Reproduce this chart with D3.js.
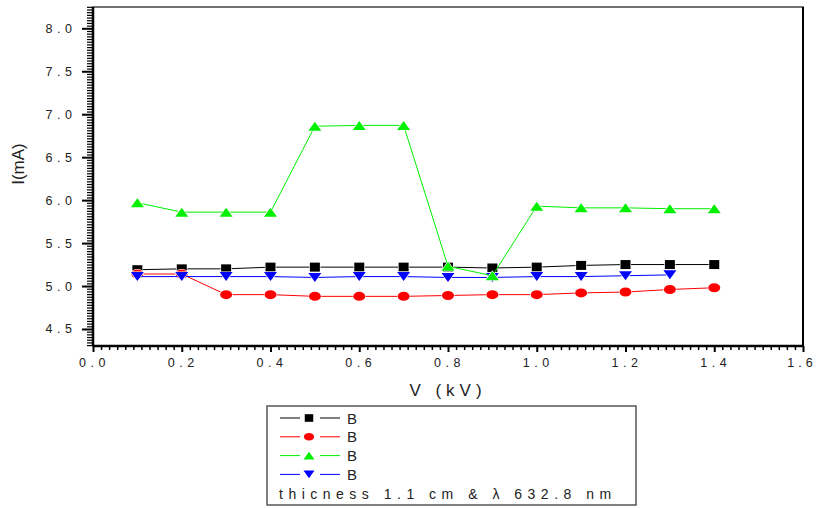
<!DOCTYPE html>
<html>
<head>
<meta charset="utf-8">
<script src="https://cdn.jsdelivr.net/npm/d3@7"></script>
<style>
  body { margin: 0; background: #fff; }
  text { font-family: "Liberation Sans", Arial, sans-serif; fill: #222; }
</style>
</head>
<body>
<div id="chart"></div>
<script>
// values
var volts = [0.1, 0.2, 0.3, 0.4, 0.5, 0.6, 0.7, 0.8, 0.9, 1.0, 1.1, 1.2, 1.3, 1.4];
var blackVals = [5.19, 5.20, 5.20, 5.22, 5.22, 5.22, 5.22, 5.22, 5.21, 5.22, 5.24, 5.25, 5.25, 5.25];
var redVals = [5.14, 5.14, 4.90, 4.90, 4.88, 4.88, 4.88, 4.89, 4.90, 4.90, 4.92, 4.93, 4.96, 4.98];
var greenVals = [5.97, 5.86, 5.86, 5.86, 6.86, 6.87, 6.87, 5.23, 5.12, 5.93, 5.91, 5.91, 5.90, 5.90];
var blueVals = [5.11, 5.11, 5.11, 5.11, 5.10, 5.11, 5.11, 5.10, 5.10, 5.11, 5.11, 5.12, 5.13];
var legendNames = ["B", "B", "B", "B"];
var xTicks = [0, 0.2, 0.4, 0.6, 0.8, 1.0, 1.2, 1.4, 1.6];
var yTicks = [4.5, 5.0, 5.5, 6.0, 6.5, 7.0, 7.5, 8.0];
var noteText = "thicness 1.1 cm & \u03bb 632.8 nm";

var width = 817, height = 508;
var plotLeft = 93, plotRight = 803, plotTop = 7, plotBottom = 346;

var svg = d3.select("#chart").append("svg")
    .attr("width", width)
    .attr("height", height);

var x = d3.scaleLinear().domain([0, 1.6]).range([plotLeft, plotRight]);
var y = d3.scaleLinear().domain([4.302, 8.248]).range([plotBottom, plotTop]);

// frame
svg.append("rect")
    .attr("x", plotLeft).attr("y", plotTop)
    .attr("width", plotRight - plotLeft).attr("height", plotBottom - plotTop)
    .attr("fill", "none").attr("stroke", "#444").attr("stroke-width", 1.5);
svg.append("line")
    .attr("x1", plotRight).attr("x2", plotRight).attr("y1", plotTop).attr("y2", plotBottom)
    .attr("stroke", "#000").attr("stroke-width", 2);

// minor ticks
var xMinor = [];
for (var i = 0; i < 8; i++) {
    for (var k = 1; k < 11; k++) xMinor.push(i * 0.2 + k * 0.2 / 11);
}
var yMinor = [];
for (var r = -6; r <= 120; r++) {
    var val = 4.5 + r * 0.5 / 16;
    if (r % 16 != 0 && val >= 4.3 && val <= 8.25) yMinor.push(val);
}

svg.append("g")
    .attr("transform", "translate(0," + plotBottom + ")")
    .call(d3.axisBottom(x).tickValues(xMinor).tickSize(4).tickFormat(""))
    .call(function(g) { g.select(".domain").remove(); })
    .selectAll("line").attr("stroke-width", 1.5);
svg.append("g")
    .attr("transform", "translate(" + plotLeft + ",0)")
    .call(d3.axisLeft(y).tickValues(yMinor).tickSize(6).tickFormat(""))
    .call(function(g) { g.select(".domain").remove(); })
    .selectAll("line").attr("stroke-width", 1.2);

var xAxis = svg.append("g")
    .attr("transform", "translate(0," + plotBottom + ")")
    .call(d3.axisBottom(x).tickValues(xTicks).tickSize(6).tickPadding(6)
        .tickFormat(d3.format(".1f")));
xAxis.select(".domain").remove();
xAxis.selectAll("line").attr("stroke-width", 2);
xAxis.selectAll("text").attr("font-size", 12.5).attr("letter-spacing", 4.5)
    .attr("dx", 1).attr("fill", "#222");
// last label sits at the window edge
xAxis.selectAll("text").filter(function(d) { return d == 1.6; })
    .attr("letter-spacing", 4).attr("dx", -1.5);

var yAxis = svg.append("g")
    .attr("transform", "translate(" + plotLeft + ",0)")
    .call(d3.axisLeft(y).tickValues(yTicks).tickSize(11).tickPadding(6)
        .tickFormat(d3.format(".1f")));
yAxis.select(".domain").remove();
yAxis.selectAll("line").attr("stroke-width", 2);
yAxis.selectAll("text").attr("font-size", 12.5).attr("letter-spacing", 4.5)
    .attr("dx", 0.5).attr("fill", "#222");

// axis lines
svg.append("line").attr("x1", plotLeft).attr("x2", plotRight).attr("y1", plotBottom).attr("y2", plotBottom)
    .attr("stroke", "#000").attr("stroke-width", 2.5);
svg.append("line").attr("x1", plotLeft).attr("x2", plotLeft).attr("y1", plotTop).attr("y2", plotBottom)
    .attr("stroke", "#000").attr("stroke-width", 2.5);

// axis titles
svg.append("text")
    .attr("x", 448).attr("y", 396)
    .attr("text-anchor", "middle")
    .attr("font-size", 17).attr("letter-spacing", 5)
    .text("V (kV)");
svg.append("text")
    .attr("transform", "translate(24,164) rotate(-90)")
    .attr("text-anchor", "middle")
    .attr("font-size", 17)
    .text("I(mA)");

// markers
function markerPath(shape) {
    if (shape == "square") return "M-5,-4.5H5V4.5H-5Z";
    if (shape == "circle") return "M-6,0A6,4.5 0 1,0 6,0A6,4.5 0 1,0 -6,0Z";
    if (shape == "up") return "M-6.5,4.5L0,-4.5L6.5,4.5Z";
    return "M-6.5,-4.5L6.5,-4.5L0,4.5Z";
}

var series = [
    { vals: blackVals, color: "#000000", shape: "square" },
    { vals: redVals, color: "#ff0000", shape: "circle" },
    { vals: blueVals, color: "#0000ff", shape: "down" },
    { vals: greenVals, color: "#00f000", shape: "up" }
];

var line = d3.line()
    .x(function(d) { return x(d[0]); })
    .y(function(d) { return y(d[1]); });

series.forEach(function(s) {
    var pts = s.vals.map(function(v, i) { return [volts[i], v]; });
    svg.append("path")
        .datum(pts)
        .attr("d", line)
        .attr("fill", "none")
        .attr("stroke", s.color)
        .attr("stroke-width", 1);
    svg.selectAll(null)
        .data(pts)
        .enter().append("path")
        .attr("d", markerPath(s.shape))
        .attr("transform", function(d) { return "translate(" + x(d[0]) + "," + y(d[1]) + ")"; })
        .attr("fill", s.color)
        .attr("stroke", "#fff")
        .attr("stroke-width", 1.2)
        .attr("paint-order", "stroke");
});

// legend
var legendOrder = [series[0], series[1], series[3], series[2]];
var lg = svg.append("g");
lg.append("rect")
    .attr("x", 267).attr("y", 406)
    .attr("width", 369).attr("height", 99)
    .attr("fill", "#fff").attr("stroke", "#555").attr("stroke-width", 1.5);

legendOrder.forEach(function(s, i) {
    var ly = 418 + i * 18.8;
    lg.append("line")
        .attr("x1", 280).attr("x2", 300).attr("y1", ly).attr("y2", ly)
        .attr("stroke", s.color).attr("stroke-width", 1);
    lg.append("line")
        .attr("x1", 320).attr("x2", 340).attr("y1", ly).attr("y2", ly)
        .attr("stroke", s.color).attr("stroke-width", 1);
    lg.append("path")
        .attr("d", markerPath(s.shape))
        .attr("transform", "translate(309," + ly + ") scale(0.85)")
        .attr("fill", s.color);
    lg.append("text")
        .attr("x", 347).attr("y", ly + 5.5)
        .attr("font-size", 15)
        .text(legendNames[i]);
});
lg.append("text")
    .attr("x", 279).attr("y", 499)
    .attr("font-size", 14).attr("letter-spacing", 5.5)
    .text(noteText);
</script>
</body>
</html>
